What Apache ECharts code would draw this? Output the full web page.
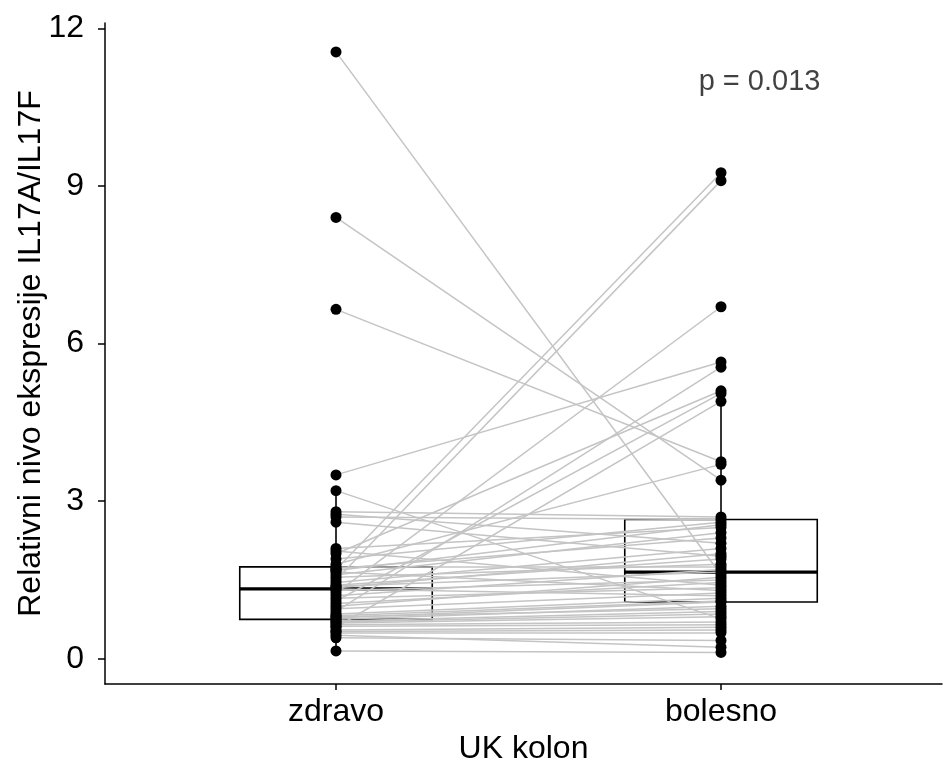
<!DOCTYPE html>
<html>
<head>
<meta charset="utf-8">
<script src="https://cdn.jsdelivr.net/npm/echarts@6/dist/echarts.min.js"></script>
<style>
html,body{margin:0;padding:0;background:#fff;}
#chart{width:943px;height:763px;}
</style>
</head>
<body>
<div id="chart"></div>
<script>
// Categories and tick labels
var categories = ['zdravo', 'bolesno'];
var yTicks = [0, 3, 6, 9, 12];
var pLabel = 'p = 0.013';

// Paired values (same index = same subject)
var zdravo = [11.55, 8.4, 6.65, 3.5, 3.2, 2.8, 2.75, 2.7, 2.6, 2.1,
  2.05, 2.0, 1.9, 1.8, 1.75, 1.72, 1.7, 1.68, 1.65, 1.6,
  1.55, 1.5, 1.45, 1.4, 1.38, 1.35, 1.33, 1.3, 1.25, 1.2,
  1.15, 1.1, 1.05, 1.0, 0.95, 0.9, 0.85, 0.82, 0.8, 0.78,
  0.75, 0.72, 0.7, 0.68, 0.65, 0.62, 0.6, 0.55, 0.52, 0.5,
  0.45, 0.4, 0.15];
var bolesno = [1.6, 3.4, 3.75, 5.65, 0.76, 2.7, 2.2, 2.65, 1.95, 2.5,
  1.4, 5.1, 2.6, 3.7, 1.75, 2.3, 9.25, 2.55, 1.3, 2.4,
  1.8, 9.1, 2.1, 1.9, 1.65, 2.0, 1.2, 1.5, 6.7, 1.7,
  1.35, 5.05, 1.45, 1.55, 1.25, 5.55, 1.15, 1.1, 0.95, 1.08,
  1.0, 0.9, 0.85, 0.8, 0.7, 0.65, 4.9, 0.6, 0.55, 0.5,
  0.22, 0.35, 0.12];

// Box statistics: [lowerWhisker, Q1, median, Q3, upperWhisker]
var boxZdravo = [0.15, 0.75, 1.33, 1.75, 3.2];
var boxBolesno = [0.12, 1.08, 1.65, 2.65, 5.1];

var FONT = 'Liberation Sans, Arial, sans-serif';
var TXT = '#000000';

var pairLines = [];
var points = [];
for (var i = 0; i < zdravo.length; i++) {
  pairLines.push({coords: [[1, zdravo[i]], [2, bolesno[i]]]});
  points.push([1, zdravo[i]]);
  points.push([2, bolesno[i]]);
}
var boxData = [[1].concat(boxZdravo), [2].concat(boxBolesno)];

var chart = echarts.init(document.getElementById('chart'), null, {renderer: 'canvas'});
var option = {
  animation: false,
  backgroundColor: '#ffffff',
  grid: {left: 105, right: 1, top: 23, bottom: 79, containLabel: false, outerBoundsMode: 'none'},
  xAxis: {
    type: 'value', min: 0.4, max: 2.574,
    name: 'UK kolon', nameLocation: 'middle', nameGap: 49, nameMoveOverlap: false,
    nameTextStyle: {fontFamily: FONT, fontSize: 32, color: TXT},
    axisLine: {show: true, onZero: false, lineStyle: {color: '#000', width: 1.5}},
    axisTick: {show: true, customValues: [1, 2], length: 6, lineStyle: {color: '#000', width: 1.5}},
    axisLabel: {show: true, customValues: [1, 2], margin: 12, fontFamily: FONT, fontSize: 32, color: TXT,
      formatter: function (v) { return categories[Math.round(v) - 1] || ''; }},
    splitLine: {show: false}
  },
  yAxis: {
    type: 'value', min: -0.48, max: 12.1,
    name: 'Relativni nivo ekspresije IL17A/IL17F', nameLocation: 'middle', nameGap: 58, nameMoveOverlap: false,
    nameTextStyle: {fontFamily: FONT, fontSize: 32, color: TXT},
    axisLine: {show: true, onZero: false, lineStyle: {color: '#000', width: 1.5}},
    axisTick: {show: true, customValues: yTicks, length: 7, lineStyle: {color: '#000', width: 1.5}},
    axisLabel: {show: true, customValues: yTicks, margin: 21, fontFamily: FONT, fontSize: 32, color: TXT},
    splitLine: {show: false}
  },
  series: [
    {
      type: 'custom',
      z: 1,
      data: boxData,
      encode: {x: 0, y: [1, 2, 3, 4, 5]},
      renderItem: function (params, api) {
        var x = api.value(0);
        var half = 0.25;
        var pLow = api.coord([x, api.value(1)]);
        var pQ1 = api.coord([x, api.value(2)]);
        var pMed = api.coord([x, api.value(3)]);
        var pQ3 = api.coord([x, api.value(4)]);
        var pHigh = api.coord([x, api.value(5)]);
        var left = api.coord([x - half, 0])[0];
        var right = api.coord([x + half, 0])[0];
        var st = {stroke: '#000', lineWidth: 1.6, fill: null};
        return {
          type: 'group',
          children: [
            {type: 'line', shape: {x1: pQ3[0], y1: pQ3[1], x2: pHigh[0], y2: pHigh[1]}, style: st},
            {type: 'line', shape: {x1: pQ1[0], y1: pQ1[1], x2: pLow[0], y2: pLow[1]}, style: st},
            {type: 'rect', shape: {x: left, y: pQ3[1], width: right - left, height: pQ1[1] - pQ3[1]},
              style: {stroke: '#000', lineWidth: 1.6, fill: '#ffffff'}},
            {type: 'line', shape: {x1: left, y1: pMed[1], x2: right, y2: pMed[1]}, style: {stroke: '#000', lineWidth: 3.2}}
          ]
        };
      }
    },
    {
      type: 'lines',
      coordinateSystem: 'cartesian2d',
      z: 2,
      data: pairLines,
      lineStyle: {color: '#c4c4c4', width: 1.5, opacity: 1},
      silent: true
    },
    {
      type: 'scatter',
      z: 3,
      data: points,
      symbol: 'circle',
      symbolSize: 11,
      itemStyle: {color: '#000', opacity: 1},
      silent: true
    },
    {
      type: 'scatter',
      z: 4,
      data: [[2.1, 10.98]],
      symbolSize: 0,
      label: {show: true, position: 'inside', formatter: pLabel, fontFamily: FONT, fontSize: 29, color: '#111'},
      silent: true
    }
  ]
};
chart.setOption(option);
</script>
</body>
</html>
